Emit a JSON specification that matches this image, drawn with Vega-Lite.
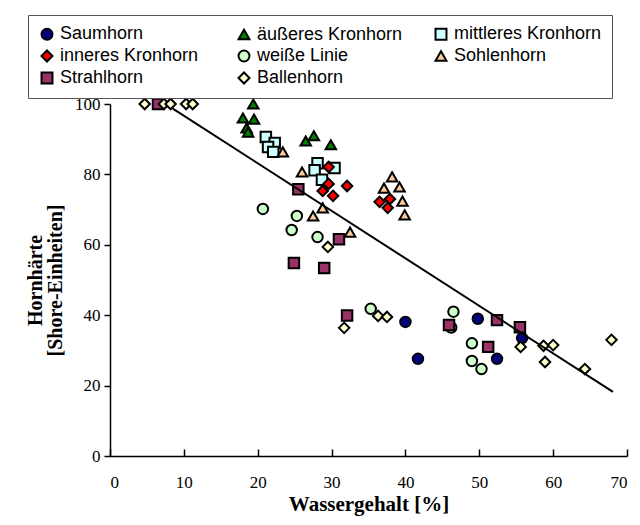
{
  "$schema": "https://vega.github.io/schema/vega-lite/v6.json",
  "width": 517,
  "height": 352,
  "autosize": {"type": "none"},
  "padding": {"left": 110, "top": 104, "right": 13, "bottom": 69},
  "background": "white",
  "config": {
    "view": {"stroke": null},
    "axis": {
      "grid": false,
      "domainColor": "black",
      "domainWidth": 1.5,
      "tickColor": "black",
      "tickWidth": 1.5,
      "labelFont": "Liberation Serif",
      "labelFontSize": 17,
      "labelColor": "black",
      "titleFont": "Liberation Serif",
      "titleFontSize": 20,
      "titleFontWeight": "bold",
      "titleColor": "black",
      "titleLineHeight": 20
    }
  },
  "datasets": {
    "pts": [
      {"x": 40.0, "y": 38.1, "g": "Saumhorn"},
      {"x": 41.7, "y": 27.6, "g": "Saumhorn"},
      {"x": 49.8, "y": 39.0, "g": "Saumhorn"},
      {"x": 52.4, "y": 27.6, "g": "Saumhorn"},
      {"x": 55.8, "y": 33.5, "g": "Saumhorn"},
      {"x": 19.4, "y": 100, "g": "äußeres Kronhorn"},
      {"x": 18.0, "y": 96, "g": "äußeres Kronhorn"},
      {"x": 19.5, "y": 95.7, "g": "äußeres Kronhorn"},
      {"x": 18.5, "y": 93.2, "g": "äußeres Kronhorn"},
      {"x": 18.7, "y": 92, "g": "äußeres Kronhorn"},
      {"x": 26.5, "y": 89.5, "g": "äußeres Kronhorn"},
      {"x": 27.6, "y": 91, "g": "äußeres Kronhorn"},
      {"x": 29.9, "y": 88.4, "g": "äußeres Kronhorn"},
      {"x": 21.1, "y": 90.6, "g": "mittleres Kronhorn"},
      {"x": 22.3, "y": 88.9, "g": "mittleres Kronhorn"},
      {"x": 21.4, "y": 87.8, "g": "mittleres Kronhorn"},
      {"x": 22.1, "y": 86.4, "g": "mittleres Kronhorn"},
      {"x": 28.1, "y": 83.2, "g": "mittleres Kronhorn"},
      {"x": 27.7, "y": 81.2, "g": "mittleres Kronhorn"},
      {"x": 30.4, "y": 81.8, "g": "mittleres Kronhorn"},
      {"x": 28.7, "y": 78.5, "g": "mittleres Kronhorn"},
      {"x": 29.6, "y": 82.1, "g": "inneres Kronhorn"},
      {"x": 29.6, "y": 77.3, "g": "inneres Kronhorn"},
      {"x": 28.8, "y": 75.3, "g": "inneres Kronhorn"},
      {"x": 30.2, "y": 73.9, "g": "inneres Kronhorn"},
      {"x": 32.1, "y": 76.7, "g": "inneres Kronhorn"},
      {"x": 36.5, "y": 72.2, "g": "inneres Kronhorn"},
      {"x": 37.9, "y": 73.0, "g": "inneres Kronhorn"},
      {"x": 37.6, "y": 70.5, "g": "inneres Kronhorn"},
      {"x": 20.7, "y": 70.2, "g": "weiße Linie"},
      {"x": 25.3, "y": 68.2, "g": "weiße Linie"},
      {"x": 24.6, "y": 64.2, "g": "weiße Linie"},
      {"x": 28.1, "y": 62.2, "g": "weiße Linie"},
      {"x": 35.3, "y": 41.8, "g": "weiße Linie"},
      {"x": 46.5, "y": 41.0, "g": "weiße Linie"},
      {"x": 46.2, "y": 36.5, "g": "weiße Linie"},
      {"x": 49.0, "y": 32.0, "g": "weiße Linie"},
      {"x": 49.0, "y": 27.0, "g": "weiße Linie"},
      {"x": 50.3, "y": 24.7, "g": "weiße Linie"},
      {"x": 23.4, "y": 86.4, "g": "Sohlenhorn"},
      {"x": 26.0, "y": 80.7, "g": "Sohlenhorn"},
      {"x": 38.2, "y": 79.3, "g": "Sohlenhorn"},
      {"x": 37.1, "y": 76.1, "g": "Sohlenhorn"},
      {"x": 39.2, "y": 76.4, "g": "Sohlenhorn"},
      {"x": 39.6, "y": 72.4, "g": "Sohlenhorn"},
      {"x": 39.9, "y": 68.5, "g": "Sohlenhorn"},
      {"x": 28.8, "y": 70.5, "g": "Sohlenhorn"},
      {"x": 27.5, "y": 68.2, "g": "Sohlenhorn"},
      {"x": 32.5, "y": 63.6, "g": "Sohlenhorn"},
      {"x": 6.5, "y": 100, "g": "Strahlhorn"},
      {"x": 25.5, "y": 75.8, "g": "Strahlhorn"},
      {"x": 31.0, "y": 61.6, "g": "Strahlhorn"},
      {"x": 24.9, "y": 54.8, "g": "Strahlhorn"},
      {"x": 29.0, "y": 53.4, "g": "Strahlhorn"},
      {"x": 32.1, "y": 39.9, "g": "Strahlhorn"},
      {"x": 45.9, "y": 37.2, "g": "Strahlhorn"},
      {"x": 51.2, "y": 31.0, "g": "Strahlhorn"},
      {"x": 52.4, "y": 38.6, "g": "Strahlhorn"},
      {"x": 55.5, "y": 36.6, "g": "Strahlhorn"},
      {"x": 4.7, "y": 100, "g": "Ballenhorn"},
      {"x": 7.3, "y": 100, "g": "Ballenhorn"},
      {"x": 8.2, "y": 100, "g": "Ballenhorn"},
      {"x": 10.3, "y": 100, "g": "Ballenhorn"},
      {"x": 11.2, "y": 100, "g": "Ballenhorn"},
      {"x": 29.5, "y": 59.4, "g": "Ballenhorn"},
      {"x": 31.7, "y": 36.4, "g": "Ballenhorn"},
      {"x": 36.3, "y": 39.8, "g": "Ballenhorn"},
      {"x": 37.5, "y": 39.5, "g": "Ballenhorn"},
      {"x": 55.6, "y": 31.0, "g": "Ballenhorn"},
      {"x": 58.7, "y": 31.3, "g": "Ballenhorn"},
      {"x": 60.0, "y": 31.5, "g": "Ballenhorn"},
      {"x": 58.9, "y": 26.7, "g": "Ballenhorn"},
      {"x": 64.3, "y": 24.7, "g": "Ballenhorn"},
      {"x": 67.9, "y": 33.0, "g": "Ballenhorn"}
    ],
    "trend": [
      {"x": 8.5, "y": 98.7},
      {"x": 68.1, "y": 18.2}
    ]
  },
  "layer": [
    {
      "data": {"name": "pts"},
      "mark": {"type": "point", "filled": true, "stroke": "black", "strokeWidth": 2, "size": 110, "opacity": 1},
      "encoding": {
        "x": {
          "field": "x", "type": "quantitative",
          "scale": {"domain": [0, 70], "nice": false, "zero": false},
          "axis": {"values": [0, 10, 20, 30, 40, 50, 60, 70], "title": "Wassergehalt [%]", "titleFontSize": 21, "tickSize": -7, "labelPadding": 25, "titlePadding": 3}
        },
        "y": {
          "field": "y", "type": "quantitative",
          "scale": {"domain": [0, 100], "nice": false},
          "axis": {"values": [0, 20, 40, 60, 80, 100], "title": ["Hornhärte", "[Shore-Einheiten]"], "tickSize": 6, "labelPadding": 4, "titlePadding": 9}
        },
        "color": {
          "field": "g", "type": "nominal",
          "scale": {
            "domain": ["Saumhorn", "inneres Kronhorn", "Strahlhorn", "äußeres Kronhorn", "weiße Linie", "Ballenhorn", "mittleres Kronhorn", "Sohlenhorn"],
            "range": ["#000080", "#FF0000", "#993366", "#008000", "#CCFFCC", "#FFFFCC", "#CCFFFF", "#FFCC99"]
          },
          "legend": {
            "orient": "none", "legendX": -82, "legendY": -89, "title": null,
            "columns": 3, "gridAlign": "all", "columnPadding": 26, "rowPadding": 2,
            "padding": 10, "strokeColor": "#555555", "fillColor": "white",
            "labelFont": "Liberation Sans", "labelFontSize": 18, "labelColor": "black",
            "symbolSize": 120, "symbolStrokeColor": "black", "symbolStrokeWidth": 2, "symbolOpacity": 1, "labelOffset": 4
          }
        },
        "shape": {
          "field": "g", "type": "nominal",
          "scale": {
            "domain": ["Saumhorn", "inneres Kronhorn", "Strahlhorn", "äußeres Kronhorn", "weiße Linie", "Ballenhorn", "mittleres Kronhorn", "Sohlenhorn"],
            "range": ["circle", "diamond", "square", "triangle-up", "circle", "diamond", "square", "triangle-up"]
          }
        }
      }
    },
    {
      "data": {"name": "trend"},
      "mark": {"type": "line", "color": "black", "strokeWidth": 2},
      "encoding": {
        "x": {"field": "x", "type": "quantitative"},
        "y": {"field": "y", "type": "quantitative"}
      }
    }
  ]
}
